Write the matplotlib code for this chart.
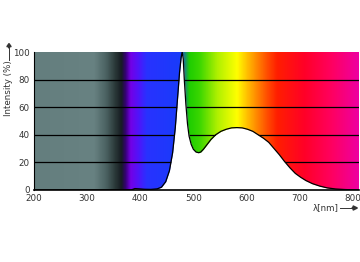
import numpy as np
import matplotlib
matplotlib.use("Agg")
import matplotlib.pyplot as plt
from matplotlib.colors import LinearSegmentedColormap

# ===== spectrum =====
wavelength = [200, 383, 390, 398, 408, 420, 432, 440, 448, 455, 461, 466, 470, 474,
              477, 479, 481, 483, 486, 489, 492, 496, 500, 505, 510, 514, 519,
              525, 533, 542, 552, 562, 572, 582, 592, 602, 612, 622, 632, 642,
              652, 662, 672, 682, 692, 702, 712, 724, 738, 752, 768, 785, 800, 811]
intensity = [0, 0, 1.0, 0.8, 0.5, 0.4, 0.8, 2, 6, 14, 27, 45, 65, 85,
             96, 100, 95, 80, 62, 48, 39, 33, 29.5, 27.5, 27, 27.5, 29.5,
             32.5, 36.5, 40, 42.5, 44, 45, 45.2, 45, 44, 42.5, 40, 37.5, 34.5,
             30, 25.5, 20.5, 16, 12, 9.2, 6.8, 4.6, 2.8, 1.5, 0.7, 0.3, 0.1, 0]

# background colour band: wavelength stops and RGB colours
band_nm = [200, 312, 335, 352, 364, 372, 381, 396, 412, 475, 492, 512, 545,
           582, 600, 618, 638, 658, 710, 760, 811]
band_rgb = [(100, 126, 126), (104, 130, 130), (75, 98, 98), (42, 56, 56),
            (22, 28, 34), (55, 0, 120), (115, 0, 230), (80, 20, 250),
            (40, 50, 255), (25, 60, 250), (30, 205, 0), (60, 215, 0),
            (175, 240, 0), (255, 255, 0), (255, 195, 0), (255, 140, 0),
            (255, 80, 0), (255, 30, 0), (255, 0, 40), (255, 0, 95),
            (238, 0, 160)]

x_ticks = [200, 300, 400, 500, 600, 700, 800]
y_ticks = [0, 20, 40, 60, 80, 100]
txt = "#333333"

fig = plt.figure(figsize=(3.6, 2.62), dpi=100)
ax = fig.add_axes([34/360, 0.275, 324.5/360, 0.5265])

lo, hi = band_nm[0], band_nm[-1]
stops = [((n - lo) / (hi - lo), tuple(c / 255 for c in rgb)) for n, rgb in zip(band_nm, band_rgb)]
cmap = LinearSegmentedColormap.from_list("band", stops)
grad = np.linspace(0, 1, 1200).reshape(1, -1)
ax.imshow(grad, cmap=cmap, aspect="auto", extent=[lo, hi, 0, 100], zorder=0)

ax.fill_between(wavelength, 0, intensity, color="white", lw=0, zorder=1)
for y in y_ticks[1:-1]:
    ax.axhline(y, color="black", lw=0.9, zorder=0.5)
ax.plot(wavelength, intensity, color="black", lw=0.9, zorder=2)

ax.set_xlim(200, 811)
ax.set_ylim(0, 100)
ax.set_xticks(x_ticks)
ax.set_yticks(y_ticks)
ax.tick_params(length=0, labelsize=6.3, colors=txt, pad=3)
for s in ["top", "right"]:
    ax.spines[s].set_visible(False)
ax.spines["left"].set_linewidth(0.8)
ax.spines["bottom"].set_linewidth(1.2)

fig.text(9/360, 1 - 88/262, "Intensity (%)", rotation=90, ha="center", va="center",
         fontsize=6.3, color=txt)
fig.add_artist(plt.Line2D([9/360, 9/360], [1 - 60/262, 1 - 46/262], color=txt, lw=0.7))
fig.patches.append(matplotlib.patches.FancyArrow(9/360, 1 - 48/262, 0, 0.005, width=0.001,
                   head_width=0.012, head_length=0.012, color=txt, transform=fig.transFigure))

fig.text(339/360, 1 - 208/262, "λ[nm]", ha="right", va="center", fontsize=6.3, color=txt)
fig.add_artist(plt.Line2D([340/360, 355/360], [1 - 208/262, 1 - 208/262], color=txt, lw=0.7))
fig.patches.append(matplotlib.patches.FancyArrow(352/360, 1 - 208/262, 0.003, 0, width=0.001,
                   head_width=0.016, head_length=0.012, color=txt, transform=fig.transFigure))

fig.savefig("out.png", dpi=100)
